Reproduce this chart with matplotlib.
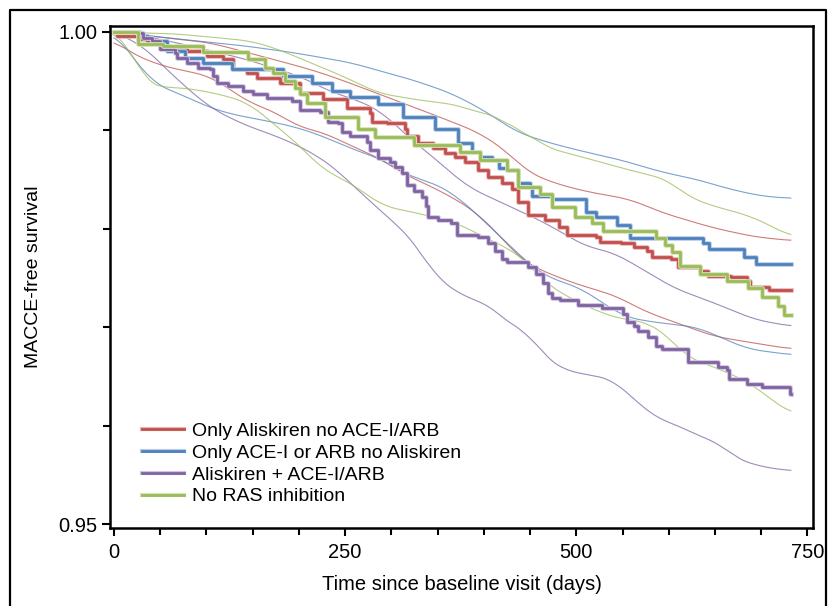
import matplotlib
matplotlib.use("Agg")
import matplotlib.pyplot as plt
import matplotlib.patheffects as pe
from matplotlib.lines import Line2D
import numpy as np

plt.rcParams['font.family'] = ['Liberation Sans', 'DejaVu Sans']

labels = ["Only Aliskiren no ACE-I/ARB", "Only ACE-I or ARB no Aliskiren",
          "Aliskiren + ACE-I/ARB", "No RAS inhibition"]
colors = ["#C0504D", "#4F81BD", "#8064A2", "#9BBB59"]
halo = ["#E8B8B7", "#B9CDE6", "#CFC3DE", "#D5E4B8"]
end_day = 732

# Kaplan-Meier step curves (event day, survival after step)
red_t = [0, 3, 26, 36, 57, 79, 101, 118, 129, 144, 155, 180, 201, 226, 252, 277, 279, 295, 315, 317, 329, 345, 358, 369, 380, 394, 405, 420, 431, 437, 448, 466, 481, 490, 521, 526, 548, 562, 577, 582, 602, 610, 634, 642, 667, 685, 688, 708]
red_s = [1.0, 0.9996, 0.9993, 0.9991, 0.9983, 0.9981, 0.9976, 0.9973, 0.9962, 0.9958, 0.9953, 0.9948, 0.9938, 0.9932, 0.9923, 0.9918, 0.9909, 0.9908, 0.9901, 0.9894, 0.9887, 0.9882, 0.9877, 0.9873, 0.9868, 0.9860, 0.9853, 0.9847, 0.9840, 0.9827, 0.9814, 0.9809, 0.9802, 0.9794, 0.9792, 0.9787, 0.9786, 0.9782, 0.9777, 0.9771, 0.9769, 0.9761, 0.9757, 0.9752, 0.9751, 0.9747, 0.9741, 0.9738]

blue_t = [0, 28, 37, 41, 57, 77, 96, 128, 183, 214, 236, 255, 286, 313, 347, 372, 387, 396, 409, 416, 425, 437, 450, 452, 474, 510, 521, 544, 558, 637, 643, 681, 694]
blue_s = [1.0, 0.9996, 0.9994, 0.9991, 0.9981, 0.9974, 0.9968, 0.9962, 0.9955, 0.9948, 0.9940, 0.9934, 0.9927, 0.9914, 0.9901, 0.9887, 0.9878, 0.9873, 0.9870, 0.9862, 0.9860, 0.9847, 0.9842, 0.9833, 0.9830, 0.9817, 0.9812, 0.9804, 0.9791, 0.9786, 0.9779, 0.9771, 0.9764]

purple_t = [0, 25, 31, 41, 50, 66, 68, 79, 91, 104, 107, 111, 123, 139, 150, 166, 193, 201, 223, 231, 242, 247, 255, 274, 277, 286, 299, 304, 312, 317, 324, 333, 337, 340, 350, 364, 371, 394, 405, 412, 420, 425, 448, 456, 464, 469, 474, 482, 502, 528, 550, 555, 562, 567, 578, 586, 593, 621, 653, 663, 665, 685, 701, 731]
purple_s = [1.0, 0.9999, 0.9994, 0.9991, 0.9983, 0.9979, 0.9974, 0.9968, 0.9963, 0.9962, 0.9955, 0.9948, 0.9945, 0.9940, 0.9937, 0.9933, 0.9930, 0.9921, 0.9919, 0.9909, 0.9908, 0.9898, 0.9894, 0.9888, 0.9880, 0.9872, 0.9868, 0.9863, 0.9857, 0.9845, 0.9838, 0.9832, 0.9823, 0.9812, 0.9809, 0.9806, 0.9794, 0.9792, 0.9786, 0.9777, 0.9769, 0.9766, 0.9761, 0.9754, 0.9745, 0.9735, 0.9730, 0.9728, 0.9723, 0.9720, 0.9713, 0.9705, 0.9701, 0.9696, 0.9690, 0.9681, 0.9678, 0.9665, 0.9660, 0.9657, 0.9647, 0.9642, 0.9639, 0.9632]

green_t = [0, 26, 53, 96, 145, 163, 172, 185, 196, 201, 209, 228, 264, 282, 324, 374, 396, 425, 437, 461, 474, 499, 517, 529, 586, 596, 604, 612, 634, 663, 686, 701, 718, 725]
green_s = [1.0, 0.9988, 0.9986, 0.9980, 0.9973, 0.9963, 0.9958, 0.9950, 0.9943, 0.9937, 0.9928, 0.9914, 0.9901, 0.9893, 0.9885, 0.9878, 0.9870, 0.9860, 0.9842, 0.9835, 0.9822, 0.9812, 0.9806, 0.9798, 0.9791, 0.9784, 0.9776, 0.9762, 0.9754, 0.9747, 0.9740, 0.9731, 0.9722, 0.9712]

# Confidence band curves (day, survival)
red_up_t = [0, 104, 169, 212, 241, 275, 323, 351, 394, 423, 447, 474, 510, 558, 594, 648, 692, 732]
red_up_s = [1.0, 0.9989, 0.9973, 0.9962, 0.9953, 0.9941, 0.9924, 0.9914, 0.9898, 0.9880, 0.9858, 0.9847, 0.9838, 0.9830, 0.9816, 0.9801, 0.9792, 0.9788]
red_lo_t = [0, 17, 50, 104, 126, 147, 176, 198, 226, 255, 291, 310, 334, 364, 393, 418, 437, 452, 485, 510, 540, 577, 613, 648, 685, 732]
red_lo_s = [0.9992, 0.9979, 0.9966, 0.9955, 0.9941, 0.9928, 0.9918, 0.9904, 0.9898, 0.9885, 0.9870, 0.9857, 0.9847, 0.9833, 0.9816, 0.9792, 0.9772, 0.9762, 0.9749, 0.9741, 0.9733, 0.9715, 0.9703, 0.9691, 0.9685, 0.9678]

blue_up_t = [0, 68, 140, 194, 255, 324, 364, 399, 436, 472, 510, 548, 591, 631, 667, 702, 732]
blue_up_s = [1.0, 0.9993, 0.9986, 0.9979, 0.9969, 0.9951, 0.9938, 0.9921, 0.9898, 0.9887, 0.9878, 0.9870, 0.9858, 0.9850, 0.9840, 0.9833, 0.9831]
blue_lo_t = [0, 17, 42, 61, 104, 129, 169, 198, 226, 255, 291, 320, 345, 371, 399, 429, 447, 466, 504, 551, 577, 631, 648, 685, 732]
blue_lo_s = [0.9999, 0.9979, 0.9948, 0.9941, 0.9923, 0.9916, 0.9909, 0.9903, 0.9894, 0.9882, 0.9870, 0.9853, 0.9847, 0.9833, 0.9809, 0.9782, 0.9766, 0.9752, 0.9740, 0.9711, 0.9706, 0.9700, 0.9693, 0.9678, 0.9672]

purple_up_t = [0, 31, 68, 140, 201, 237, 263, 291, 317, 345, 382, 418, 453, 474, 510, 540, 577, 605, 631, 659, 692, 732]
purple_up_s = [1.0, 0.9996, 0.9989, 0.9973, 0.9955, 0.9938, 0.9931, 0.9918, 0.9894, 0.9873, 0.9843, 0.9827, 0.9812, 0.9802, 0.9782, 0.9776, 0.9756, 0.9740, 0.9731, 0.9721, 0.9708, 0.9701]
purple_lo_t = [0, 31, 68, 104, 140, 176, 198, 220, 241, 255, 291, 312, 328, 347, 364, 377, 402, 431, 448, 466, 485, 510, 540, 558, 591, 613, 631, 653, 670, 696, 732]
purple_lo_s = [1.0, 0.9986, 0.9952, 0.9923, 0.9906, 0.9894, 0.9885, 0.9874, 0.9860, 0.9847, 0.9816, 0.9799, 0.9782, 0.9752, 0.9741, 0.9731, 0.9725, 0.9701, 0.9695, 0.9670, 0.9657, 0.9652, 0.9647, 0.9630, 0.9605, 0.9600, 0.9589, 0.9584, 0.9568, 0.9559, 0.9554]

green_up_t = [0, 68, 147, 176, 212, 255, 285, 328, 371, 394, 418, 431, 447, 466, 510, 548, 599, 620, 648, 685, 713, 732]
green_up_s = [1.0, 0.9998, 0.9991, 0.9983, 0.9969, 0.9952, 0.9938, 0.9931, 0.9926, 0.9918, 0.9914, 0.9901, 0.9898, 0.9883, 0.9872, 0.9862, 0.9850, 0.9833, 0.9823, 0.9814, 0.9802, 0.9792]
green_lo_t = [0, 17, 31, 42, 86, 122, 147, 176, 198, 226, 255, 291, 328, 371, 399, 429, 447, 466, 502, 540, 577, 599, 620, 648, 685, 732]
green_lo_s = [1.0, 0.9986, 0.9952, 0.9945, 0.9942, 0.9935, 0.9927, 0.9904, 0.9887, 0.9860, 0.9847, 0.9823, 0.9816, 0.9806, 0.9792, 0.9779, 0.9766, 0.9745, 0.9725, 0.9710, 0.9705, 0.9691, 0.9669, 0.9660, 0.9645, 0.9612]

steps = [(red_t, red_s), (blue_t, blue_s), (purple_t, purple_s), (green_t, green_s)]
bands = [((red_up_t, red_up_s), (red_lo_t, red_lo_s)),
         ((blue_up_t, blue_up_s), (blue_lo_t, blue_lo_s)),
         ((purple_up_t, purple_up_s), (purple_lo_t, purple_lo_s)),
         ((green_up_t, green_up_s), (green_lo_t, green_lo_s))]

fig = plt.figure(figsize=(8.29, 6.06), dpi=100)
ax = fig.add_axes([0.1327, 0.1287, 0.8480, 0.8283])

def smooth(t, s):
    tt = np.linspace(t[0], t[-1], 400)
    ss = np.interp(tt, t, s)
    k = 9
    pad = np.pad(ss, k, mode='edge')
    ker = np.ones(2 * k + 1) / (2 * k + 1)
    return tt, np.convolve(pad, ker, mode='valid')

for (up, lo), c in zip(bands, colors):
    for t, s in (up, lo):
        tt, ss = smooth(t, s)
        ax.plot(tt, ss, color=c, lw=0.8, alpha=0.75, zorder=2)

for (t, s), c, h, lab in zip(steps, colors, halo, labels):
    tt = list(t) + [end_day]
    ss = list(s) + [s[-1]]
    ax.step(tt, ss, where='post', color=c, lw=2.0, zorder=3,
            path_effects=[pe.Stroke(linewidth=3.4, foreground=h), pe.Normal()])

ax.set_xlim(-4.3, 756)
ax.set_ylim(0.9496, 1.0006)
ax.set_xticks([0, 250, 500, 750])
ax.set_xticks(np.arange(0, 751, 50), minor=True)
ax.set_yticks([0.95, 1.00])
ax.set_yticklabels(["0.95", "1.00"])
ax.set_yticks(np.arange(0.95, 1.0001, 0.01), minor=True)
ax.tick_params(axis='both', which='both', direction='out', width=1.5, labelsize=14.5)
ax.tick_params(axis='both', which='major', length=6)
ax.tick_params(axis='both', which='minor', length=5)
ax.tick_params(axis='x', pad=5)
ax.tick_params(axis='y', pad=3)
for sp in ax.spines.values():
    sp.set_linewidth(1.8)

ax.set_xlabel("Time since baseline visit (days)", fontsize=14.5, labelpad=9)
ax.set_ylabel("MACCE-free survival", fontsize=14, labelpad=12)

leg_handles = [Line2D([], [], color=c, lw=2.0,
                      path_effects=[pe.Stroke(linewidth=3.0, foreground=h), pe.Normal()])
               for c, h in zip(colors, halo)]
ax.legend(leg_handles, labels, loc='lower left', bbox_to_anchor=(0.045, 0.045),
          frameon=False, fontsize=14, handlelength=2.2, handletextpad=0.4,
          labelspacing=0.22, borderaxespad=0, borderpad=0)

# outer frame (left, top, right edges)
fig.add_artist(Line2D([10 / 829, 10 / 829, 826 / 829, 826 / 829],
                      [0.0, 596 / 606, 596 / 606, 0.0],
                      transform=fig.transFigure, color='black', lw=1.6))

fig.savefig("out.png", dpi=100)
